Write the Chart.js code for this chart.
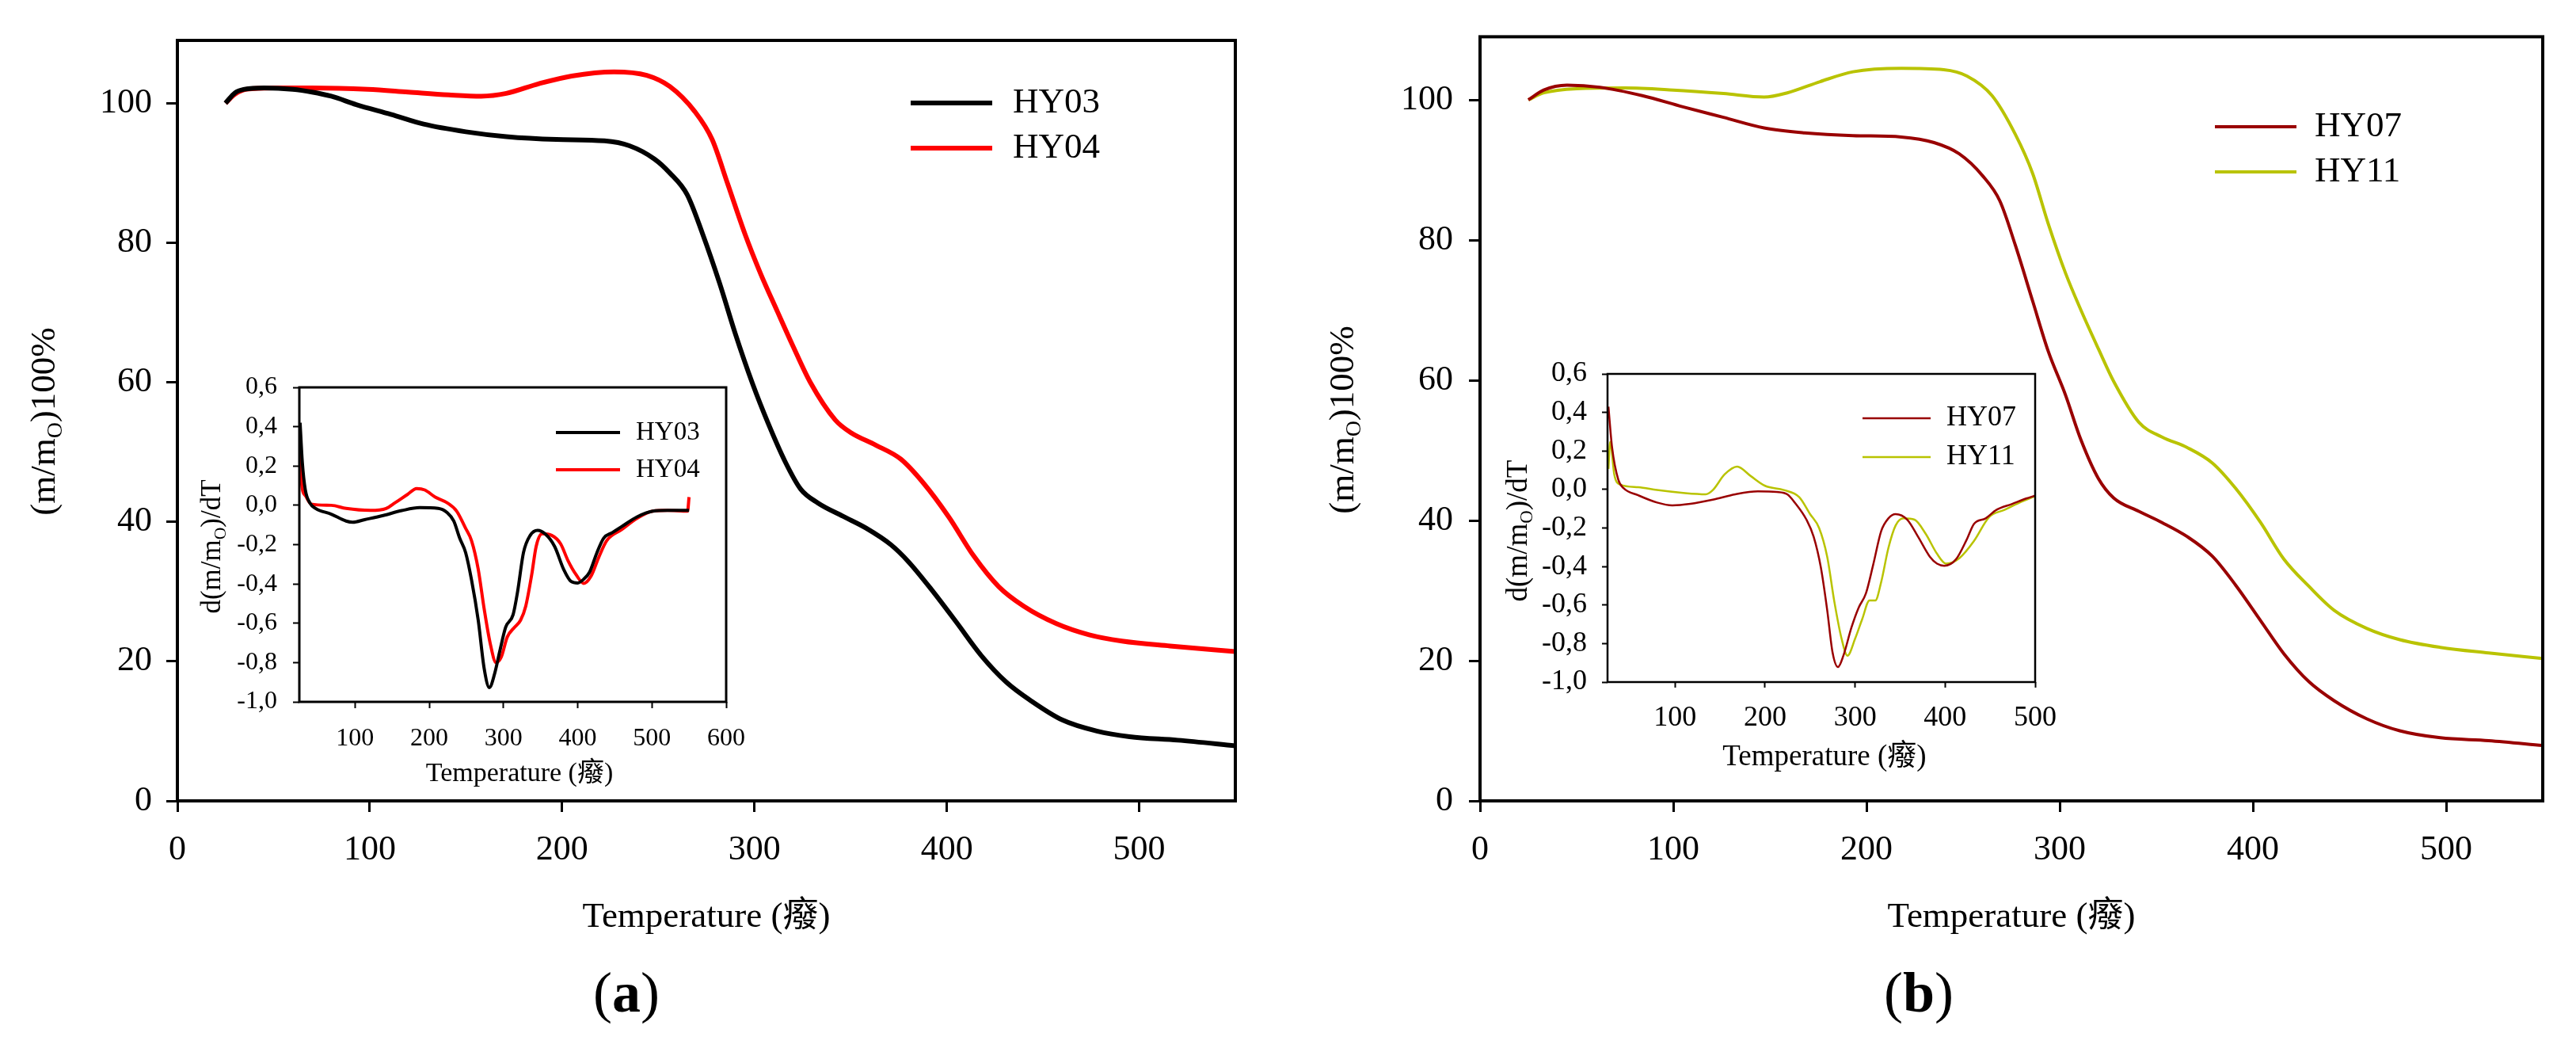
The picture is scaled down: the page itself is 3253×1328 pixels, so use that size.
<!DOCTYPE html>
<html>
<head>
<meta charset="utf-8">
<script src="https://cdn.jsdelivr.net/npm/chart.js@4.4.0/dist/chart.umd.min.js"></script>
<style>
  html, body { margin: 0; padding: 0; background: #fff; }
  #page { position: relative; width: 3253px; height: 1328px; overflow: hidden; background: #fff; }
  canvas { position: absolute; }
</style>
</head>
<body>
<div id="page">
  <canvas id="mainA"></canvas>
  <canvas id="mainB"></canvas>
  <canvas id="insetA"></canvas>
  <canvas id="insetB"></canvas>
</div>
<script>
// TGA curves, panel (a)
const tgaT03 = [25, 30, 35, 45, 60, 70, 80, 93, 111, 128, 150, 171, 197, 222, 235, 248, 256, 265, 273, 282, 290, 299, 307, 316, 324, 333, 346, 358, 371, 380, 392, 405, 418, 431, 444, 460, 478, 495, 520, 550];
const tgaHY03 = [100, 101.5, 102.0, 102.2, 102.0, 101.6, 101.0, 99.8, 98.4, 97.0, 95.9, 95.2, 94.8, 94.6, 93.9, 92.0, 90.0, 86.9, 81.3, 74.1, 67.0, 59.8, 54.2, 48.6, 44.7, 42.7, 40.8, 39.1, 36.7, 34.3, 30.3, 25.6, 20.8, 17.0, 14.3, 11.6, 10.0, 9.2, 8.7, 7.9];
const tgaT04 = [25, 30, 36, 50, 70, 99, 120, 141, 158, 171, 188, 205, 227, 244, 256, 269, 278, 286, 295, 303, 312, 320, 329, 342, 350, 363, 376, 388, 401, 414, 427, 440, 457, 474, 491, 516, 550];
const tgaHY04 = [100, 101.3, 102.0, 102.2, 102.2, 102.0, 101.6, 101.2, 101.0, 101.4, 102.8, 103.9, 104.5, 104.0, 102.4, 98.8, 94.8, 88.5, 81.3, 75.7, 70.1, 65.2, 60.0, 54.6, 52.8, 51.0, 49.0, 45.5, 40.7, 35.1, 30.7, 27.9, 25.4, 23.8, 22.9, 22.2, 21.4];

// TGA curves, panel (b)
const tgaT07 = [25, 33, 45, 62, 84, 105, 126, 147, 168, 193, 218, 235, 248, 260, 269, 277, 286, 294, 303, 311, 320, 328, 341, 353, 366, 379, 391, 404, 416, 429, 442, 459, 476, 497, 522, 550];
const tgaHY07 = [100, 101.4, 102.1, 101.8, 100.6, 99.0, 97.5, 96.0, 95.3, 94.9, 94.7, 93.9, 92.3, 89.2, 85.6, 79.3, 71.3, 64.2, 57.9, 51.5, 46.0, 43.2, 41.3, 39.7, 37.7, 34.9, 30.8, 25.7, 21.0, 17.0, 14.3, 11.7, 10.0, 9.0, 8.6, 7.9];
const tgaT11 = [25, 33, 50, 75, 100, 126, 147, 159, 176, 193, 218, 240, 252, 265, 277, 286, 294, 303, 311, 320, 328, 341, 353, 366, 379, 391, 404, 416, 429, 442, 459, 476, 497, 522, 550];
const tgaHY11 = [100, 101.0, 101.6, 101.7, 101.4, 100.9, 100.4, 101.0, 102.6, 104.0, 104.5, 104.3, 103.4, 100.6, 95.1, 89.5, 82.4, 75.3, 70.0, 64.5, 59.8, 54.0, 51.9, 50.4, 48.2, 44.6, 39.7, 34.5, 30.6, 27.2, 24.6, 23.0, 21.9, 21.1, 20.3];

// DTG insets, panel (a)
const dtgT03 = [26, 29, 33, 39, 47, 68, 88, 97, 113, 138, 163, 187, 212, 224, 233, 241, 249, 257, 266, 274, 281, 288, 295, 303, 313, 319, 327, 336, 346, 356, 369, 381, 391, 400, 408, 416, 426, 435, 447, 459, 480, 501, 521, 550];
const dtgHY03 = [0.42, 0.22, 0.08, 0.013, -0.016, -0.045, -0.08, -0.086, -0.073, -0.052, -0.027, -0.012, -0.016, -0.037, -0.08, -0.167, -0.24, -0.38, -0.585, -0.83, -0.927, -0.858, -0.743, -0.62, -0.556, -0.44, -0.24, -0.153, -0.127, -0.145, -0.21, -0.325, -0.387, -0.395, -0.376, -0.34, -0.24, -0.167, -0.138, -0.109, -0.059, -0.03, -0.026, -0.026];
const dtgT04 = [26, 27.5, 33, 41, 68, 88, 121, 142, 154, 171, 183, 194, 208, 224, 237, 249, 257, 266, 274, 282, 290, 297, 305, 315, 323, 330, 338, 344, 352, 365, 377, 387, 398, 408, 418, 428, 439, 459, 480, 501, 521, 548, 550];
const dtgHY04 = [0.38, 0.135, 0.05, 0.006, 0, -0.016, -0.026, -0.016, 0.013, 0.056, 0.085, 0.078, 0.042, 0.013, -0.03, -0.117, -0.18, -0.325, -0.527, -0.7, -0.8, -0.772, -0.671, -0.62, -0.585, -0.513, -0.354, -0.21, -0.145, -0.153, -0.196, -0.282, -0.354, -0.397, -0.36, -0.268, -0.18, -0.124, -0.066, -0.03, -0.026, -0.03, 0.042];

// DTG insets, panel (b)
const dtgT07 = [26, 30, 37, 43, 59, 80, 97, 117, 142, 167, 192, 213, 225, 233, 246, 254, 262, 269, 275, 281, 287, 296, 304, 312, 320, 329, 337, 345, 358, 370, 383, 391, 399, 412, 424, 432, 445, 457, 474, 490, 500];
const dtgHY07 = [0.43, 0.22, 0.05, 0.006, -0.03, -0.068, -0.083, -0.075, -0.053, -0.025, -0.01, -0.013, -0.026, -0.068, -0.157, -0.246, -0.406, -0.626, -0.847, -0.922, -0.863, -0.716, -0.613, -0.54, -0.393, -0.216, -0.15, -0.128, -0.157, -0.246, -0.349, -0.385, -0.396, -0.363, -0.26, -0.179, -0.15, -0.106, -0.076, -0.047, -0.032];
const dtgT11 = [26, 28, 32.5, 39, 59, 80, 109, 134, 142, 155, 169, 184, 200, 221, 238, 250, 260, 269, 277, 285, 291.5, 300, 308, 316, 322.5, 329, 337, 345, 354, 366, 378.5, 391, 401, 416, 432, 449, 466, 482, 500];
const dtgHY11 = [0.107, 0.247, 0.078, 0.026, 0.012, -0.003, -0.018, -0.025, -0.003, 0.078, 0.119, 0.07, 0.019, -0.003, -0.04, -0.128, -0.2, -0.349, -0.584, -0.775, -0.863, -0.775, -0.672, -0.576, -0.576, -0.48, -0.304, -0.187, -0.15, -0.157, -0.231, -0.334, -0.385, -0.356, -0.268, -0.143, -0.106, -0.07, -0.035];

// tick values
const tgaXTicks = [0, 100, 200, 300, 400, 500];
const tgaYTicks = [0, 20, 40, 60, 80, 100];
const dtgXTicksA = [100, 200, 300, 400, 500, 600];
const dtgXTicksB = [100, 200, 300, 400, 500];
const dtgYTicks = [-1.0, -0.8, -0.6, -0.4, -0.2, 0.0, 0.2, 0.4, 0.6];

const FONT = "'Liberation Serif', 'Times New Roman', 'Noto Sans CJK SC', serif";
const xTitle = 'Temperature (癈)';

// texto con subíndice, opcionalmente rotado
function richText(ctx, parts, x, y, size, rot) {
    ctx.save();
    ctx.translate(x, y);
    if (rot) ctx.rotate(-Math.PI / 2);
    const fontOf = p => `${p.bold ? 'bold ' : ''}${p.sub ? size * 0.62 : size}px ${FONT}`;
    let w = 0;
    parts.forEach(p => { ctx.font = fontOf(p); w += ctx.measureText(p.t).width; });
    let cx = -w / 2;
    ctx.fillStyle = '#000';
    ctx.textAlign = 'left';
    ctx.textBaseline = 'middle';
    parts.forEach(p => {
        ctx.font = fontOf(p);
        ctx.fillText(p.t, cx, p.sub ? size * 0.3 : 0);
        cx += ctx.measureText(p.t).width;
    });
    ctx.restore();
}

function decorPlugin(box, deco) {
    return {
        id: 'decor',
        afterDraw(chart) {
            const ctx = chart.ctx, a = chart.chartArea;
            ctx.save();
            ctx.strokeStyle = '#000';
            ctx.lineWidth = deco.frame;
            ctx.strokeRect(a.left, a.top, a.right - a.left, a.bottom - a.top);
            const lg = deco.legend;
            chart.data.datasets.forEach((ds, i) => {
                const y = lg.ys[i] - box.top;
                ctx.strokeStyle = ds.borderColor;
                ctx.lineWidth = ds.borderWidth;
                ctx.beginPath();
                ctx.moveTo(lg.x0 - box.left, y);
                ctx.lineTo(lg.x1 - box.left, y);
                ctx.stroke();
                ctx.fillStyle = '#000';
                ctx.font = `${lg.size}px ${FONT}`;
                ctx.textAlign = 'left';
                ctx.textBaseline = 'middle';
                ctx.fillText(ds.label, lg.xt - box.left, y);
            });
            deco.texts.forEach(t => richText(ctx, t.parts, t.x - box.left, t.y - box.top, t.size, t.rot));
            ctx.restore();
        }
    };
}

const zip = (xs, ys) => xs.map((x, i) => ({ x, y: ys[i] }));
const dtgFmt = v => v.toFixed(1).replace('.', ',');

function axis(box, range, ticks, o, isX) {
    return {
        type: 'linear',
        min: range[0],
        max: range[1],
        afterBuildTicks: s => { s.ticks = ticks.map(v => ({ value: v })); },
        afterFit: s => {
            if (isX) s.height = box.top + box.height - box.area.b;
            else s.width = box.area.l - box.left;
        },
        grid: {
            display: true, drawOnChartArea: false, drawTicks: true,
            tickLength: o.tick, tickWidth: o.tickW, color: '#000', tickColor: '#000'
        },
        border: { display: false },
        ticks: {
            font: { size: o.font, family: FONT }, color: '#000',
            padding: isX ? o.xPad : o.yPad, maxRotation: 0, autoSkip: false,
            callback: isX ? (v => String(v)) : (o.fmtY || (v => String(v)))
        }
    };
}

function makeChart(id, box, sets, xr, xt, yr, yt, o, deco) {
    const cv = document.getElementById(id);
    cv.width = box.width;
    cv.height = box.height;
    cv.style.left = box.left + 'px';
    cv.style.top = box.top + 'px';
    cv.style.width = box.width + 'px';
    cv.style.height = box.height + 'px';
    return new Chart(cv.getContext('2d'), {
        type: 'line',
        data: {
            datasets: sets.map(s => ({
                label: s.label, data: s.data, borderColor: s.color, backgroundColor: s.color,
                borderWidth: s.width, pointRadius: 0, fill: false, cubicInterpolationMode: 'monotone'
            }))
        },
        options: {
            responsive: false, animation: false, devicePixelRatio: 1,
            layout: { padding: { left: 0, bottom: 0, top: box.area.t - box.top, right: box.left + box.width - box.area.r } },
            plugins: { legend: { display: false }, tooltip: { enabled: false } },
            scales: { x: axis(box, xr, xt, o, true), y: axis(box, yr, yt, o, false) }
        },
        plugins: [decorPlugin(box, deco)]
    });
}

Chart.defaults.font.family = FONT;

const boxMainA = { left: 0, top: 0, width: 1620, height: 1328, area: { l: 224, t: 51, r: 1560, b: 1011 } };
const boxMainB = { left: 1640, top: 0, width: 1613, height: 1328, area: { l: 1869, t: 45, r: 3211, b: 1011 } };
const boxInsetA = { left: 240, top: 440, width: 720, height: 560, area: { l: 378, t: 489, r: 929, b: 886 } };
const boxInsetB = { left: 1880, top: 420, width: 740, height: 560, area: { l: 2030, t: 472, r: 2570, b: 861 } };

const mainOpts = { tick: 14, tickW: 3, font: 44, xPad: 22, yPad: 18 };
const yTitleMain = [{ t: '(m/m' }, { t: 'O', sub: true }, { t: ')100%' }];
const yTitleDtg = [{ t: 'd(m/m' }, { t: 'O', sub: true }, { t: ')/dT' }];

makeChart('mainA', boxMainA,
    [{ label: 'HY03', data: zip(tgaT03, tgaHY03), color: '#000000', width: 6 },
     { label: 'HY04', data: zip(tgaT04, tgaHY04), color: '#ff0000', width: 6 }],
    [0, 550], tgaXTicks, [0, 109], tgaYTicks, mainOpts,
    { frame: 4,
      legend: { x0: 1150, x1: 1253, xt: 1279, ys: [130, 187], size: 45 },
      texts: [
        { parts: yTitleMain, x: 57, y: 532, size: 45, rot: true },
        { parts: [{ t: xTitle }], x: 892, y: 1158, size: 45 },
        { parts: [{ t: '(' }, { t: 'a', bold: true }, { t: ')' }], x: 791, y: 1258, size: 72 }
      ] });

makeChart('mainB', boxMainB,
    [{ label: 'HY07', data: zip(tgaT07, tgaHY07), color: '#990000', width: 4 },
     { label: 'HY11', data: zip(tgaT11, tgaHY11), color: '#b9c300', width: 4 }],
    [0, 550], tgaXTicks, [0, 109], tgaYTicks, { ...mainOpts, yPad: 20 },
    { frame: 4,
      legend: { x0: 2797, x1: 2900, xt: 2923, ys: [160, 217], size: 45 },
      texts: [
        { parts: yTitleMain, x: 1697, y: 530, size: 45, rot: true },
        { parts: [{ t: xTitle }], x: 2540, y: 1158, size: 45 },
        { parts: [{ t: '(' }, { t: 'b', bold: true }, { t: ')' }], x: 2423, y: 1258, size: 72 }
      ] });

makeChart('insetA', boxInsetA,
    [{ label: 'HY03', data: zip(dtgT03, dtgHY03), color: '#000000', width: 4 },
     { label: 'HY04', data: zip(dtgT04, dtgHY04), color: '#ff0000', width: 4 }],
    [25, 600], dtgXTicksA, [-1.0, 0.6], dtgYTicks,
    { tick: 8, tickW: 2, font: 32, xPad: 19, yPad: 20, fmtY: dtgFmt },
    { frame: 3,
      legend: { x0: 702, x1: 783, xt: 803, ys: [546, 593], size: 33 },
      texts: [
        { parts: yTitleDtg, x: 269, y: 690, size: 35, rot: true },
        { parts: [{ t: xTitle }], x: 656, y: 977, size: 34 }
      ] });

makeChart('insetB', boxInsetB,
    [{ label: 'HY07', data: zip(dtgT07, dtgHY07), color: '#990000', width: 2.5 },
     { label: 'HY11', data: zip(dtgT11, dtgHY11), color: '#b9c300', width: 2.5 }],
    [25, 500], dtgXTicksB, [-1.0, 0.6], dtgYTicks,
    { tick: 7, tickW: 2, font: 36, xPad: 17, yPad: 19, fmtY: dtgFmt },
    { frame: 2.5,
      legend: { x0: 2352, x1: 2438, xt: 2458, ys: [528, 577], size: 36 },
      texts: [
        { parts: yTitleDtg, x: 1918, y: 670, size: 37, rot: true },
        { parts: [{ t: xTitle }], x: 2304, y: 956, size: 37 }
      ] });
</script>
</body>
</html>
